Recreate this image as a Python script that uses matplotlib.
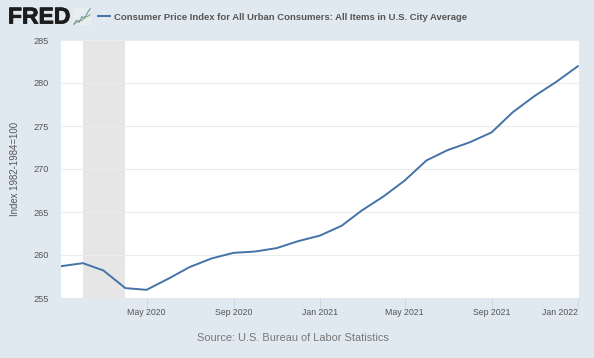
import matplotlib
matplotlib.use("Agg")
import matplotlib.pyplot as plt
import matplotlib.patheffects as pe
import pandas as pd

plt.rcParams['font.family'] = ['Liberation Sans', 'DejaVu Sans']

# Monthly index values
months = pd.date_range("2020-01-01", "2022-01-01", freq="MS")
cpi = [258.7, 259.05, 258.2, 256.15, 255.95, 257.25, 258.6, 259.6, 260.25, 260.4,
       260.8, 261.6, 262.25, 263.4, 265.15, 266.8, 268.65, 271.0, 272.2, 273.1,
       274.25, 276.6, 278.5, 280.1, 281.95]
recession = ("2020-02-01", "2020-04-01")
y_ticks = [255, 260, 265, 270, 275, 280, 285]
x_ticks = ["2020-05-01", "2020-09-01", "2021-01-01", "2021-05-01", "2021-09-01", "2022-01-01"]
x_labels = ["May 2020", "Sep 2020", "Jan 2021", "May 2021", "Sep 2021", "Jan 2022"]

# Little logo chart next to the wordmark
logo_a = [1, 3, 2, 5, 4, 7, 9]
logo_b = [1, 2, 3, 3, 5, 5, 6]

BG = '#e1e9f0'
LINE = '#4572a7'
TXT = '#555555'
W, H = 594, 358

fig = plt.figure(figsize=(W / 100, H / 100), dpi=100, facecolor=BG)
ax = fig.add_axes([61 / W, 1 - 298 / H, 517.5 / W, 258 / H])

ax.axvspan(pd.Timestamp(recession[0]), pd.Timestamp(recession[1]), color='#e6e6e6', lw=0, zorder=1)
ax.plot(months, cpi, color=LINE, linewidth=1.4, zorder=3, solid_joinstyle='round')

ax.set_xlim(months[0], months[-1] + pd.Timedelta(days=1))
ax.set_ylim(255, 285)
ax.set_yticks(y_ticks)
ax.set_xticks(pd.to_datetime(x_ticks))
ax.set_xticklabels(x_labels)
ax.grid(True, axis='y', color='#ececec', linewidth=0.8, zorder=0)
for s in ax.spines.values():
    s.set_visible(False)
ax.tick_params(axis='y', length=0, pad=8.6, labelsize=6.6, labelcolor=TXT)
ax.tick_params(axis='x', length=7, width=0.6, color='#c8d7e6', pad=0, labelsize=6.3, labelcolor=TXT)
# keep the last label inside the figure
ax.get_xticklabels()[-1].set_ha('right')
ax.set_ylabel("Index 1982-1984=100", fontsize=6.9, color=TXT)
ax.yaxis.set_label_coords(-41 / 517.5, 0.5)

# Header: wordmark, logo chart, legend key and title
fig.text(8 / W, 1 - 17 / H, "FRED", fontsize=16.5, fontweight='bold', color='#1c1c1c', va='center', ha='left',
         path_effects=[pe.withStroke(linewidth=0.6, foreground='#1c1c1c')])
logo = fig.add_axes([73 / W, 1 - 25 / H, 18 / W, 17 / H], facecolor='#e8edf0')
logo.plot(logo_a, color='#6f93b8', lw=0.8)
logo.plot(logo_b, color='#8fa878', lw=0.8)
logo.set_xticks([])
logo.set_yticks([])
for s in logo.spines.values():
    s.set_visible(False)
fig.add_artist(plt.Line2D([98 / W, 110 / W], [1 - 16 / H, 1 - 16 / H], color=LINE, lw=1.4))
fig.text(114 / W, 1 - 17 / H, "Consumer Price Index for All Urban Consumers: All Items in U.S. City Average",
         fontsize=6.8, fontweight='bold', color=TXT, va='center', ha='left')

fig.text(293 / W, 1 - 338 / H, "Source: U.S. Bureau of Labor Statistics",
         fontsize=7.9, color='#777777', ha='center', va='center')

fig.savefig("out.png", dpi=100, facecolor=BG)
